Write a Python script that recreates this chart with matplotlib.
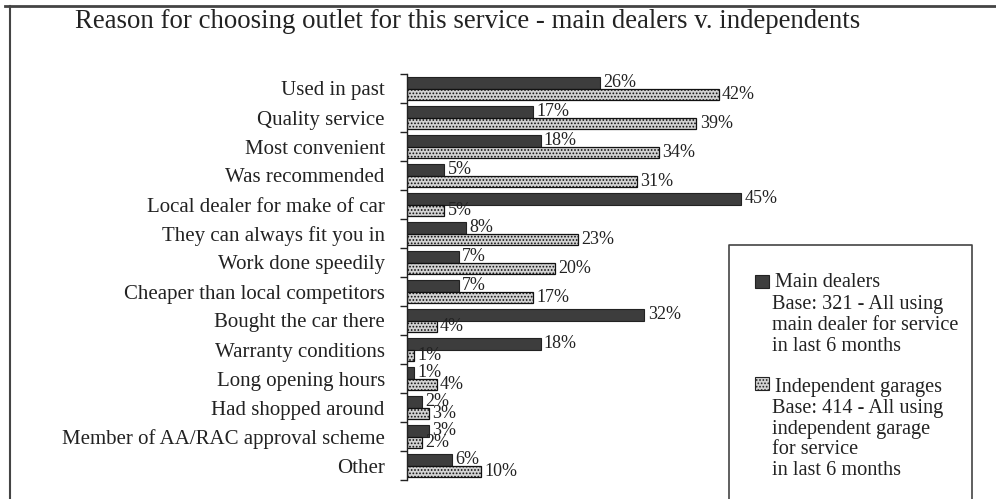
import matplotlib
matplotlib.use("Agg")
import matplotlib.pyplot as plt
from matplotlib.patches import Rectangle
from matplotlib.lines import Line2D
import numpy as np

categories = ["Used in past", "Quality service", "Most convenient", "Was recommended",
              "Local dealer for make of car", "They can always fit you in", "Work done speedily",
              "Cheaper than local competitors", "Bought the car there", "Warranty conditions",
              "Long opening hours", "Had shopped around", "Member of AA/RAC approval scheme", "Other"]
main_dealers = [26, 17, 18, 5, 45, 8, 7, 7, 32, 18, 1, 2, 3, 6]
independents = [42, 39, 34, 31, 5, 23, 20, 17, 4, 1, 4, 3, 2, 10]
title = "Reason for choosing outlet for this service - main dealers v. independents"
legend_main = ["Main dealers", "Base: 321 - All using", "main dealer for service", "in last 6 months"]
legend_ind = ["Independent garages", "Base: 414 - All using", "independent garage", "for service", "in last 6 months"]

plt.rcParams['font.family'] = ['Liberation Serif', 'DejaVu Serif']
plt.rcParams['hatch.color'] = '#8a8a8a'
plt.rcParams['hatch.linewidth'] = 0.8
W, H = 996, 499
fig = plt.figure(figsize=(W/100, H/100), dpi=100)
txt = '#222222'

ax = fig.add_axes([407/W, 1-480/H, 371/W, (480-74)/H])
y = np.arange(len(categories))
off = 0.19
bh = 0.38
dark = '#3d3d3d'
light = '#d2d2d2'
ax.barh(y - off, main_dealers, height=bh, color=dark, edgecolor='#222222', linewidth=0.8)
ax.barh(y + off, independents, height=bh, color=light, edgecolor='#111111', linewidth=0.9, hatch='.....')
for i in range(len(categories)):
    ax.text(main_dealers[i] + 0.45, y[i] - off, f"{main_dealers[i]}%", va='center', ha='left', fontsize=13, color=txt)
    ax.text(independents[i] + 0.45, y[i] + off, f"{independents[i]}%", va='center', ha='left', fontsize=13, color=txt)

ax.set_xlim(0, 50)
ax.set_ylim(len(categories) - 0.5, -0.5)
ax.set_yticks(y)
ax.set_yticklabels(categories, fontsize=15, color=txt)
ax.set_yticks(np.arange(-0.5, len(categories)), minor=True)
ax.tick_params(axis='y', which='major', length=0, pad=16)
ax.tick_params(axis='y', which='minor', length=5, width=1, color='#222222', direction='out')
ax.set_xticks([])
for s in ['top', 'right', 'bottom']:
    ax.spines[s].set_visible(False)
ax.spines['left'].set_color('#222222')
ax.spines['left'].set_linewidth(1)

# title
fig.text(75/W, 1-22/H, title, fontsize=19.3, ha='left', va='center', color=txt)

# outer frame (top and left)
fig.add_artist(Line2D([5/W, 1], [1-6/H, 1-6/H], color='#444444', lw=2, transform=fig.transFigure))
fig.add_artist(Line2D([10/W, 10/W], [0, 1-6/H], color='#444444', lw=1.5, transform=fig.transFigure))

# legend box
lx0, lx1, ly0 = 729, 972, 245
fig.add_artist(Line2D([lx0/W, lx0/W, lx1/W, lx1/W], [0, 1-ly0/H, 1-ly0/H, 0], color='#444444', lw=1.2,
                      transform=fig.transFigure))
fs = 14.6
fig.add_artist(Rectangle((755/W, 1-288/H), 14/W, 13/H, facecolor=dark, edgecolor='#222222', lw=0.8,
                         transform=fig.transFigure))
fig.text(775/W, 1-287/H, legend_main[0], fontsize=fs, va='baseline', ha='left', color=txt)
for k, line in enumerate(legend_main[1:]):
    fig.text(772/W, 1-(309 + 21*k)/H, line, fontsize=fs, va='baseline', ha='left', color=txt)
fig.add_artist(Rectangle((755/W, 1-390/H), 14/W, 13/H, facecolor=light, edgecolor='#222222', lw=0.8,
                         hatch='.....', transform=fig.transFigure))
fig.text(775/W, 1-392/H, legend_ind[0], fontsize=fs, va='baseline', ha='left', color=txt)
for k, line in enumerate(legend_ind[1:]):
    fig.text(772/W, 1-(413 + 20.7*k)/H, line, fontsize=fs, va='baseline', ha='left', color=txt)

fig.savefig("out.png", dpi=100, facecolor='white')
